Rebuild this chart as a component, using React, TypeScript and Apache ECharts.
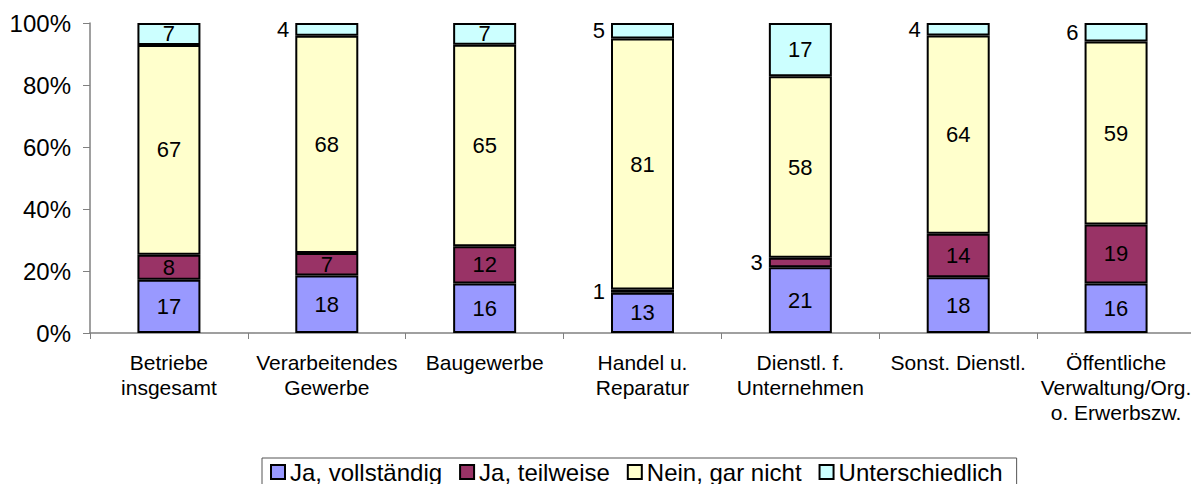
import React, { useEffect, useRef } from "react";
import * as echarts from "echarts";

const categories = [
  "Betriebe\ninsgesamt",
  "Verarbeitendes\nGewerbe",
  "Baugewerbe",
  "Handel u.\nReparatur",
  "Dienstl. f.\nUnternehmen",
  "Sonst. Dienstl.",
  "Öffentliche\nVerwaltung/Org.\no. Erwerbszw.",
];
const seriesNames = ["Ja, vollständig", "Ja, teilweise", "Nein, gar nicht", "Unterschiedlich"];
const jaVollstaendig = [17, 18, 16, 13, 21, 18, 16];
const jaTeilweise = [8, 7, 12, 1, 3, 14, 19];
const neinGarNicht = [67, 68, 65, 81, 58, 64, 59];
const unterschiedlich = [7, 4, 7, 5, 17, 4, 6];
const yTicks = [0, 20, 40, 60, 80, 100];

const colors = ["#9999FF", "#993366", "#FFFFCC", "#CCFFFF"];
const FONT = "Liberation Sans, Arial, sans-serif";

export default function App() {
  const ref = useRef<HTMLDivElement>(null);
  useEffect(() => {
    if (!ref.current) return;
    const chart = echarts.init(ref.current, undefined, { renderer: "svg" });
    const raw = [jaVollstaendig, jaTeilweise, neinGarNicht, unterschiedlich];
    const totals = categories.map((_, i) => raw.reduce((s, arr) => s + arr[i], 0));
    const series = raw.map((arr, si) => ({
      name: seriesNames[si],
      type: "bar",
      stack: "total",
      barWidth: 63,
      itemStyle: { color: colors[si], borderColor: "#000", borderWidth: 2 },
      data: arr.map((v, i) => ({
        value: (v / totals[i]) * 100,
        label: {
          show: true,
          position: v < 7 ? "left" : "inside",
          distance: 6,
          formatter: String(v),
          fontSize: 22,
          color: "#000",
          fontFamily: FONT,
        },
      })),
    }));
    chart.setOption({
      animation: false,
      color: colors,
      grid: { left: 90, right: 4, top: 23, bottom: 159, containLabel: false },
      legend: {
        data: seriesNames.map((n) => ({ name: n })),
        left: 262,
        top: 458,
        orient: "horizontal",
        itemWidth: 14,
        itemHeight: 14,
        itemGap: 17,
        padding: [2, 14, 12, 8],
        borderColor: "#555",
        borderWidth: 1,
        icon: "rect",
        itemStyle: { borderColor: "#000", borderWidth: 2 },
        textStyle: { fontSize: 24, color: "#000", fontFamily: FONT },
      },
      xAxis: {
        type: "category",
        data: categories,
        axisLine: { lineStyle: { color: "#808080", width: 1.5 } },
        axisTick: { show: true, length: 6, lineStyle: { color: "#808080" } },
        axisLabel: {
          fontSize: 21,
          color: "#000",
          fontFamily: FONT,
          lineHeight: 25,
          margin: 17,
          interval: 0,
        },
      },
      yAxis: {
        type: "value",
        min: yTicks[0],
        max: yTicks[yTicks.length - 1],
        interval: 20,
        splitLine: { show: false },
        axisLine: { show: true, lineStyle: { color: "#808080", width: 1.5 } },
        axisTick: { show: true, length: 7, lineStyle: { color: "#808080" } },
        axisLabel: {
          formatter: "{value}%",
          fontSize: 24,
          color: "#000",
          fontFamily: FONT,
          margin: 19,
        },
      },
      series,
    });
    return () => chart.dispose();
  }, []);
  return <div ref={ref} style={{ width: 1199, height: 492, margin: -8 }} />;
}
